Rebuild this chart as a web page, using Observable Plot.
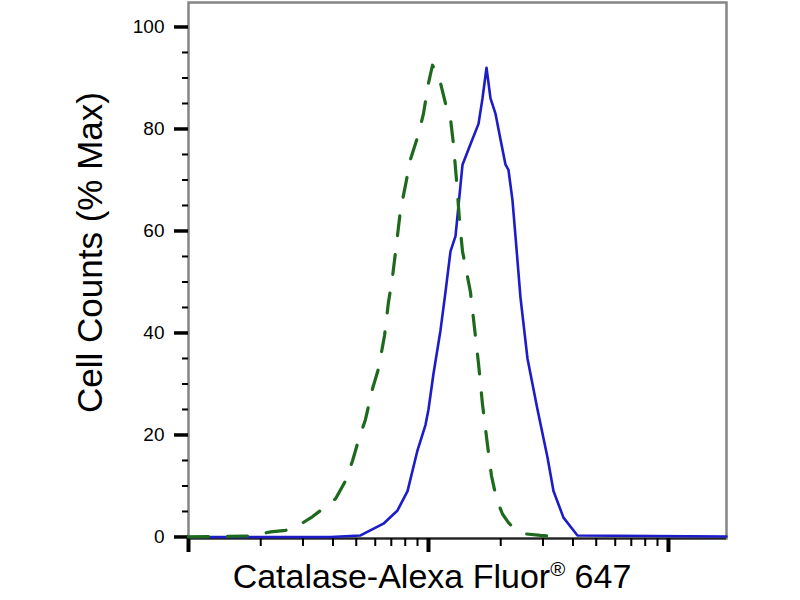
<!DOCTYPE html>
<html>
<head>
<meta charset="utf-8">
<script src="https://cdn.jsdelivr.net/npm/d3@7"></script>
<script src="https://cdn.jsdelivr.net/npm/@observablehq/plot@0.6"></script>
<style>
  body { margin: 0; background: #fff; font-family: Arial, "Liberation Sans", sans-serif; }
  #wrap { width: 800px; height: 600px; position: relative; overflow: hidden; }
  #xlabel { position: absolute; left: 0; top: 556px; width: 736px; padding-left: 64px;
            text-align: center; font-size: 34px; line-height: 36px; padding-top: 2px; color: #000; white-space: nowrap; }
  #xlabel .reg { font-size: 0.6em; position: relative; top: -0.6em; }
</style>
</head>
<body>
<div id="wrap"><div id="chart"></div>
<div id="xlabel">Catalase-Alexa Fluor<span class="reg">®</span> 647</div></div>
<script>
// Fluorescence intensity (log scale) and % Max values
const blueX = [10, 39.05, 52.1, 64.9, 74.3, 81.8, 90.0, 97.2, 100, 104.9, 112.2, 117.7, 123.5, 129.6, 133.4, 138.6, 149.6, 161.6, 167.9, 174.5, 181.3, 190.2, 199.5, 209.4, 215.4, 223.9, 230.4, 241.7, 258.5, 284.6, 313.3, 331.8, 365.2, 417.6, 1745];
const blueY = [0, 0, 0.3, 2.6, 5.2, 9, 17, 22, 25, 32, 40.5, 48, 56, 59, 65, 73, 77, 81, 86, 92, 86, 83, 78, 73, 72, 66, 59, 47, 35, 25, 15.6, 9, 3.8, 0.3, 0.1];

const greenX = [10, 18.1, 22.0, 25.4, 29.3, 32.9, 36.2, 41.0, 45.1, 48.3, 51.1, 54.6, 58.4, 61.9, 65.6, 68.1, 70.8, 73.6, 76.4, 80.2, 84.1, 90.9, 95.3, 100, 103.9, 108.0, 112.2, 117.7, 123.5, 127.1, 130.8, 134.7, 138.6, 144.0, 149.6, 155.5, 161.6, 167.9, 176.2, 183.0, 192.0, 203.4, 215.4, 230.4, 253.7, 292.9, 354.8];
const greenY = [0, 0.2, 1.0, 1.3, 2.5, 4, 5.5, 7.5, 11, 15, 19, 23, 29, 33, 39.5, 46, 51, 57.5, 64, 69, 74, 79, 83, 89, 92.5, 91, 89, 85, 82, 77, 70, 62, 56, 52, 48, 41, 34, 26, 18, 12, 7.5, 4.5, 2.8, 1.4, 0.6, 0.3, 0];

const yMajorTicks = [0, 20, 40, 60, 80, 100];
const yMinorTicks = [5, 10, 15, 25, 30, 35, 45, 50, 55, 65, 70, 75, 85, 90, 95];
const xMajorTicks = [10, 100, 1000];
const xMinorTicks = [20, 30, 40, 50, 60, 70, 80, 90, 200, 300, 400, 500, 600, 700, 800, 900];

const yTitle = "Cell Counts (% Max)";

const blue = blueX.map((x, i) => ({x, y: blueY[i]}));
const green = greenX.map((x, i) => ({x, y: greenY[i]}));

const chart = Plot.plot({
  width: 800,
  height: 556,
  marginLeft: 188,
  marginRight: 74,
  marginTop: 2,
  marginBottom: 18,
  style: {fontFamily: 'Arial, "Liberation Sans", sans-serif', background: "#fff"},
  x: {type: "log", domain: [10, 1745], axis: null},
  y: {domain: [-0.3, 104.8], axis: null},
  marks: [
    Plot.frame({stroke: "#858585", strokeWidth: 2.5}),
    Plot.ruleY([-0.3], {stroke: "#222", strokeWidth: 2}),
    Plot.axisY({ticks: yMinorTicks, tickSize: 6, strokeWidth: 2, tickFormat: () => "", label: null}),
    Plot.axisY({ticks: yMajorTicks, tickSize: 14, tickPadding: 10, strokeWidth: 3.5, fontSize: 19, label: null}),
    Plot.axisX({ticks: xMinorTicks, tickSize: 8, strokeWidth: 2, tickFormat: () => "", label: null}),
    Plot.axisX({ticks: xMajorTicks, tickSize: 14, strokeWidth: 4, tickFormat: () => "", label: null}),
    Plot.line(blue, {x: "x", y: "y", stroke: "#1c1cc8", strokeWidth: 2.6}),
    Plot.line(green, {x: "x", y: "y", stroke: "#1d6a1d", strokeWidth: 3.2, strokeDasharray: "20,19"}),
    Plot.text([yTitle], {frameAnchor: "left", dx: -98, dy: -18, rotate: -90, textAnchor: "middle", fontSize: 35, text: d => d, fill: "#000"})
  ]
});
document.getElementById("chart").appendChild(chart);
</script>
</body>
</html>
